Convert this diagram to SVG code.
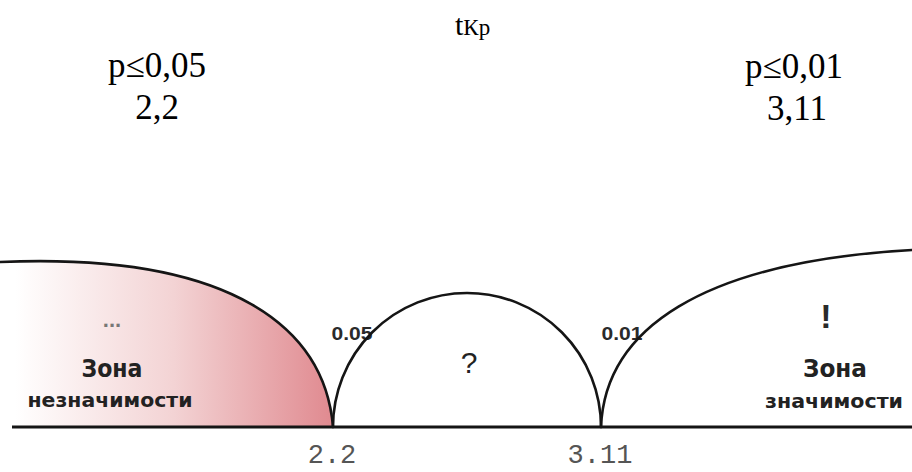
<svg xmlns="http://www.w3.org/2000/svg" width="912" height="472" viewBox="0 0 912 472">
  <defs>
    <linearGradient id="pinkFade" gradientUnits="userSpaceOnUse" x1="15" y1="0" x2="332" y2="0">
      <stop offset="0" stop-color="#ffffff"/>
      <stop offset="0.5" stop-color="#f3d3d4"/>
      <stop offset="1" stop-color="#e08a90"/>
    </linearGradient>
    <style>
      .curve { fill: none; stroke: #151515; stroke-width: 2.6; stroke-linecap: round; }
      .axis { fill: none; stroke: #151515; stroke-width: 3; }
      .serif { font-family: "Liberation Serif", "Times New Roman", serif; fill: #000; }
      .zone { font-family: "DejaVu Sans", "Liberation Sans", sans-serif; font-weight: bold; fill: #222; }
      .prob { font-family: "Liberation Sans", Arial, sans-serif; font-weight: bold; fill: #2a2a2a; font-size: 19px; }
      .tick { font-family: "Liberation Mono", "Courier New", monospace; fill: #555; font-size: 27px; }
    </style>
  </defs>
  <rect width="912" height="472" fill="#ffffff"/>

  <g id="title">
    <text class="serif" x="455" y="35"><tspan font-size="30">t</tspan><tspan font-size="23">Кр</tspan></text>
  </g>
  <g id="left-threshold">
    <text class="serif" x="157" y="77" font-size="35" text-anchor="middle">p≤0,05</text>
    <text class="serif" x="157" y="119" font-size="35" text-anchor="middle">2,2</text>
  </g>
  <g id="right-threshold">
    <text class="serif" x="794" y="78" font-size="35" text-anchor="middle">p≤0,01</text>
    <text class="serif" x="797" y="120" font-size="35" text-anchor="middle">3,11</text>
  </g>

  <g id="zone-insignificance">
    <path d="M0,262 C235,252 325,330 333,427 L0,427 Z" fill="url(#pinkFade)"/>
    <text x="112" y="327" font-family="Liberation Sans, sans-serif" font-weight="bold" font-size="22" fill="#777" text-anchor="middle">...</text>
    <text class="zone" x="112" y="377" font-size="24" text-anchor="middle" textLength="61" lengthAdjust="spacingAndGlyphs">Зона</text>
    <text class="zone" x="110" y="407" font-size="20" text-anchor="middle" textLength="165" lengthAdjust="spacingAndGlyphs">незначимости</text>
  </g>

  <g id="zone-uncertain">
    <text x="469" y="373" font-family="Liberation Sans, sans-serif" font-size="30" fill="#222" text-anchor="middle">?</text>
    <text class="prob" x="352" y="340" text-anchor="middle" textLength="41" lengthAdjust="spacingAndGlyphs">0.05</text>
    <text class="prob" x="622" y="340" text-anchor="middle" textLength="41" lengthAdjust="spacingAndGlyphs">0.01</text>
  </g>

  <g id="zone-significance">
    <text x="826" y="328" font-family="Liberation Sans, sans-serif" font-weight="bold" font-size="34" fill="#2a2a2a" text-anchor="middle">!</text>
    <text class="zone" x="835" y="377" font-size="24" text-anchor="middle" textLength="64" lengthAdjust="spacingAndGlyphs">Зона</text>
    <text class="zone" x="834" y="408" font-size="20" text-anchor="middle" textLength="138" lengthAdjust="spacingAndGlyphs">значимости</text>
  </g>

  <g id="connectors">
    <path class="curve" d="M0,262 C235,252 325,330 333,427"/>
    <path class="curve" d="M333,427 A134,134 0 0 1 601,427"/>
    <path class="curve" d="M601,427 C605,330 700,262 912,250"/>
    <path class="axis" d="M12,427 H912"/>
  </g>

  <g id="axis-labels">
    <text class="tick" x="332" y="463" text-anchor="middle">2.2</text>
    <text class="tick" x="600" y="463" text-anchor="middle">3.11</text>
  </g>
</svg>
